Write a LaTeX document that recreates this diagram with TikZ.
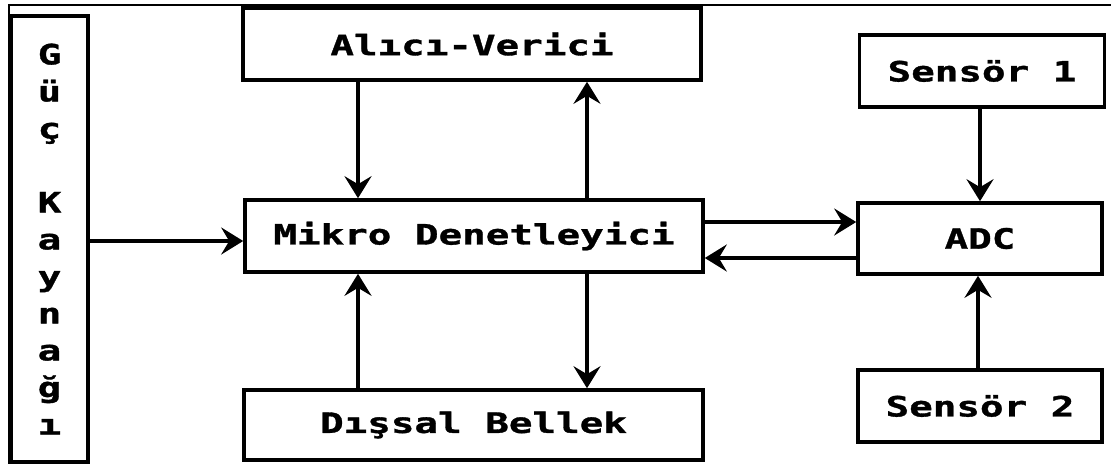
\documentclass[tikz,border=0pt]{standalone}
\usepackage{fontspec}
\newfontfamily\djm{DejaVu Sans Mono Bold}[FakeStretch=1.4,FakeBold=1.2]
\usetikzlibrary{arrows.meta}
\tikzset{
  blk/.style={draw=black, line width=3.6pt, fill=white, inner sep=0pt,
    font=\djm\fontsize{28}{37}\selectfont},
  conn/.style={line width=3.4pt, -{Stealth[length=22pt,width=27pt,inset=8pt]}},
  frame/.style={line width=2.2pt}
}
\begin{document}
\begin{tikzpicture}[x=1pt,y=-1pt]
\useasboundingbox (0,0) rectangle (1111,464);
\coordinate (fa) at (1111,5);
\coordinate (fb) at (9,5);
\coordinate (fc) at (9,464);
\draw[frame] (fa) -- (fb) -- (fc);
\node[blk, minimum width=77pt, minimum height=446pt, align=center] (guc) at (49.5,239)
  {G\\ü\\ç\\\mbox{}\\K\\a\\y\\n\\a\\ğ\\ı};
\node[blk, minimum width=458pt, minimum height=72pt] (alici) at (472,44) {Alıcı-Verici};
\node[blk, minimum width=458pt, minimum height=72pt] (mikro) at (474,236) {Mikro Denetleyici};
\node[blk, minimum width=459pt, minimum height=70pt] (dis) at (473.5,425) {Dışsal Bellek};
\node[blk, minimum width=244pt, minimum height=71pt] (adc) at (980,238.5) {ADC};
\node[blk, minimum width=245pt, minimum height=72pt] (s1) at (982,71) {Sensör 1};
\node[blk, minimum width=244pt, minimum height=72pt] (s2) at (980,406) {Sensör 2};
% connectors
\draw[conn] ([yshift=-2pt]guc.east) -- ([yshift=-2pt]guc.east -| mikro.west);
\draw[conn] ([xshift=-116pt]mikro.north |- alici.south) -- ([xshift=-116pt]mikro.north);
\draw[conn] ([xshift=113pt]mikro.north) -- ([xshift=113pt]mikro.north |- alici.south);
\draw[conn] ([xshift=113pt]mikro.south) -- ([xshift=113pt]mikro.south |- dis.north);
\draw[conn] ([xshift=-116pt]mikro.south |- dis.north) -- ([xshift=-116pt]mikro.south);
\draw[conn] ([yshift=14pt]mikro.east) -- ([yshift=14pt]mikro.east -| adc.west);
\draw[conn] ([yshift=-22pt]mikro.east -| adc.west) -- ([yshift=-22pt]mikro.east);
\draw[conn] (s1.south -| adc.north) -- (adc.north);
\draw[conn] ([xshift=-2pt]s2.north) -- ([xshift=-2pt]adc.south);
\end{tikzpicture}
\end{document}
